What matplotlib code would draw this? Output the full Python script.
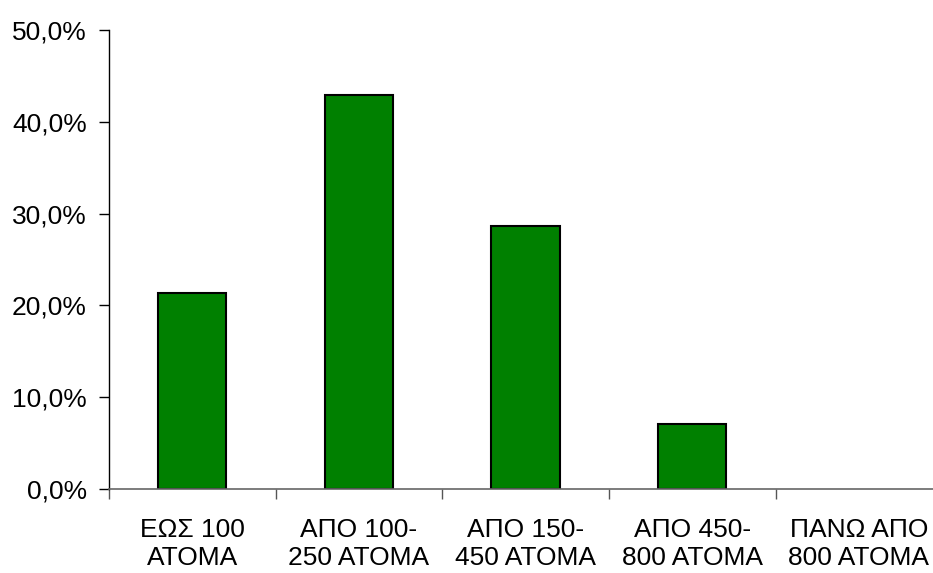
import matplotlib.pyplot as plt
from matplotlib.ticker import FuncFormatter, FixedLocator

categories = ['ΕΩΣ 100\nΑΤΟΜΑ', 'ΑΠΟ 100-\n250 ΑΤΟΜΑ', 'ΑΠΟ 150-\n450 ΑΤΟΜΑ',
              'ΑΠΟ 450-\n800 ΑΤΟΜΑ', 'ΠΑΝΩ ΑΠΟ\n800 ΑΤΟΜΑ']
shares = [0.214, 0.429, 0.286, 0.071, 0.0]
y_ticks = [0.0, 0.1, 0.2, 0.3, 0.4, 0.5]

plt.rcParams['font.family'] = ['Liberation Sans', 'DejaVu Sans']
plt.rcParams['font.size'] = 19

fig = plt.figure(figsize=(9.33, 5.73), dpi=100)
ax = fig.add_axes([0.1168, 0.1466, 0.893, 0.801])

x = range(len(categories))
# empty categories get no outline so the baseline stays grey
edges = ['black' if v > 0 else 'none' for v in shares]
ax.bar(x, shares, width=0.41, color='#008000', edgecolor=edges, linewidth=1.5)

ax.set_xlim(-0.5, len(categories) - 0.5)
ax.set_ylim(0, 0.5)
ax.set_yticks(y_ticks)
ax.yaxis.set_major_formatter(FuncFormatter(lambda v, p: f'{v * 100:.1f}%'.replace('.', ',')))

ax.set_xticks(list(x))
ax.set_xticklabels(categories, linespacing=1.2)
ax.xaxis.set_minor_locator(FixedLocator([i - 0.5 for i in range(len(categories) + 1)]))
ax.tick_params(axis='x', which='major', length=0, pad=21)
ax.tick_params(axis='x', which='minor', length=7, width=1, color='#555555')
ax.tick_params(axis='y', length=7, width=1, pad=9)

for side in ['top', 'right']:
    ax.spines[side].set_visible(False)
ax.spines['left'].set_linewidth(1)
ax.spines['bottom'].set_color('#666666')
ax.spines['bottom'].set_linewidth(1.2)

fig.savefig('out.png', dpi=100)
